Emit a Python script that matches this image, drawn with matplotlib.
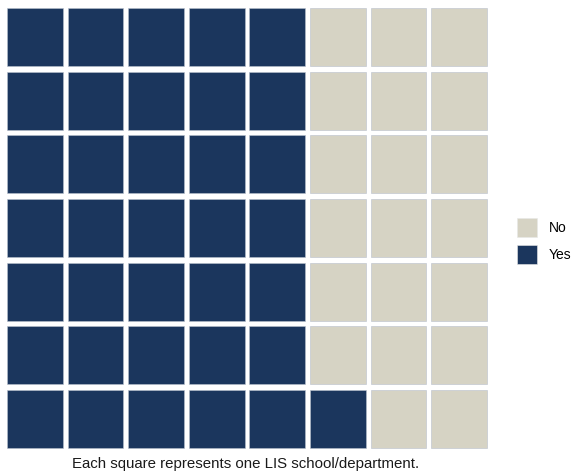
import matplotlib
matplotlib.use("Agg")
import matplotlib.pyplot as plt
from matplotlib.patches import Rectangle, Patch

plt.rcParams['font.family'] = ['Liberation Sans', 'DejaVu Sans']

# Survey answers, one square per LIS school/department
categories = ["Yes", "No"]
counts = [36, 20]
colors = {"Yes": "#1b365d", "No": "#d6d3c4"}
legend_order = ["No", "Yes"]
caption = "Each square represents one LIS school/department."

n_cols = 8
n_rows = 7

W, H = 574, 476
fig = plt.figure(figsize=(W / 100, H / 100), dpi=100)
# grid area in pixels (left, top, right, bottom)
gl, gt, gr, gb = 4.6, 5.3, 489.4, 450.7
ax = fig.add_axes([gl / W, 1 - gb / H, (gr - gl) / W, (gb - gt) / H])
ax.set_xlim(0, n_cols)
ax.set_ylim(0, n_rows)
ax.axis("off")

# fill column by column, bottom to top, starting at the left
labels = []
for cat, n in zip(categories, counts):
    labels += [cat] * n

gx, gy = 0.078, 0.09
for i, lab in enumerate(labels):
    col, row = divmod(i, n_rows)
    ax.add_patch(Rectangle((col + gx / 2, row + gy / 2), 1 - gx, 1 - gy,
                           facecolor=colors[lab], edgecolor="#b8c0cc",
                           linewidth=0.4))

handles = [Patch(facecolor=colors[c], edgecolor="#e8e8e8", linewidth=0.4, label=c)
           for c in legend_order]
fig.legend(handles=handles, loc="center left",
           bbox_to_anchor=(517 / W, 1 - 241 / H), frameon=False,
           fontsize=10, handlelength=1.45, handleheight=1.7,
           handletextpad=0.85, labelspacing=0.62, borderpad=0.0,
           borderaxespad=0.0)

fig.text(246 / W, 1 - 464 / H, caption, ha="center", va="center",
         fontsize=10.8, color="#1a1a1a")

fig.savefig("out.png", dpi=100, facecolor="white")
